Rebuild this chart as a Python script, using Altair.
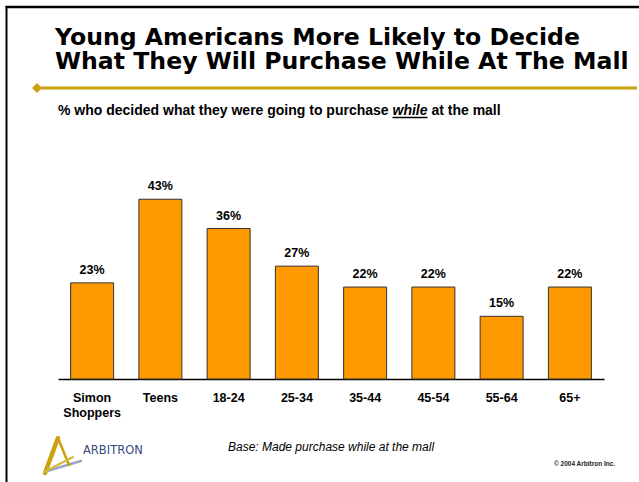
import altair as alt
import pandas as pd

categories = ["Simon Shoppers", "Teens", "18-24", "25-34", "35-44", "45-54", "55-64", "65+"]
values = [23, 43, 36, 27, 22, 22, 15, 22]
labels = ["23%", "43%", "36%", "27%", "22%", "22%", "15%", "22%"]

title_lines = ["Young Americans More Likely to Decide",
               "What They Will Purchase While At The Mall"]
subtitle_parts = ["% who decided what they were going to purchase", "while", "at the mall"]
base_note = "Base: Made purchase while at the mall"
copyright_note = "© 2004 Arbitron Inc."
logo_text = "ARBITRON"

OX = 58          # page x of plot origin
W, H = 546, 379  # plot area
GOLD = "#C9A20E"

df = pd.DataFrame({"cat": categories, "value": values, "label": labels})
one = pd.DataFrame({"d": [0]})

xenc = alt.X(
    "cat:N", sort=categories,
    scale=alt.Scale(paddingInner=0.37, paddingOuter=0.185),
    axis=alt.Axis(title=None, ticks=False, labelAngle=0, labelFont="Liberation Sans",
                  labelFontWeight="bold", labelFontSize=12.5, labelColor="black",
                  labelPadding=12, labelLineHeight=15, domainColor="black", domainWidth=1.5,
                  labelExpr="datum.label == 'Simon Shoppers' ? ['Simon', 'Shoppers'] : datum.label"),
)
yenc = alt.Y("value:Q", scale=alt.Scale(domain=[0, 90.67], nice=False), axis=None)

bars = alt.Chart(df).mark_bar(color="#FF9900", stroke="#333333", strokeWidth=1).encode(x=xenc, y=yenc)
vlabels = alt.Chart(df).mark_text(baseline="bottom", dy=-6, font="Liberation Sans",
                                  fontWeight="bold", fontSize=12.5, color="black").encode(
    x=xenc, y=yenc, text="label:N")


def txt(s, px, py, **kw):
    return alt.Chart(pd.DataFrame({"t": [s]})).mark_text(
        align="left", baseline="alphabetic", **kw).encode(
        x=alt.value(px - OX), y=alt.value(py), text="t:N")


def rule(x1, y1, x2, y2, color, w, cap="butt"):
    return alt.Chart(one).mark_rule(color=color, strokeWidth=w, strokeCap=cap).encode(
        x=alt.value(x1 - OX), x2=alt.value(x2 - OX), y=alt.value(y1), y2=alt.value(y2))


title = alt.Chart(one).mark_text(
    align="left", baseline="alphabetic", font="DejaVu Sans", fontWeight="bold",
    fontSize=23.6, lineHeight=24, color="black").encode(
    x=alt.value(55 - OX), y=alt.value(45), text=alt.value(title_lines))

layers = [
    # frame
    rule(5.5, 7, 640, 7, "black", 2.5),
    rule(6.5, 6, 6.5, 482, "black", 2),
    # title
    title,
    # gold line + diamond
    rule(37, 88, 637, 88, GOLD, 3),
    alt.Chart(one).mark_point(shape="diamond", filled=True, size=100, color=GOLD, opacity=1).encode(
        x=alt.value(37 - OX), y=alt.value(88)),
    # subtitle
    txt(subtitle_parts[0], 58, 115, font="Liberation Sans", fontWeight="bold", fontSize=14, color="black"),
    txt(subtitle_parts[1], 392.5, 115, font="Liberation Sans", fontWeight="bold", fontStyle="italic",
        fontSize=14, color="black"),
    rule(392.5, 117.5, 427.5, 117.5, "black", 1.3),
    txt(subtitle_parts[2], 431.4, 115, font="Liberation Sans", fontWeight="bold", fontSize=14, color="black"),
    # bars
    bars,
    vlabels,
    # footer
    txt(base_note, 228, 451, font="Liberation Sans", fontStyle="italic", fontSize=12, color="black"),
    txt(copyright_note, 554, 466, font="Liberation Sans", fontWeight="bold", fontSize=6.5, color="#222222"),
    # logo
    rule(47, 471, 81, 461, "#9aa6c0", 2.5, "round"),
    rule(45, 473, 58, 438, GOLD, 4.5, "round"),
    rule(58, 438, 69, 465, GOLD, 2.5, "round"),
    rule(44, 472, 73, 457, "#D8B840", 2, "round"),
    txt(logo_text, 83, 454, font="DejaVu Sans", fontWeight="normal", fontSize=11.5, color="#3b4a7e"),
]

chart = alt.layer(*layers).properties(
    width=W, height=H,
    padding={"left": OX, "top": 0, "right": 639 - OX - W, "bottom": 482 - H},
    autosize=alt.AutoSizeParams(type="none"),
    background="white",
).configure_view(stroke=None)

chart.save("out.html", embed_options={"renderer": "svg", "actions": False})
